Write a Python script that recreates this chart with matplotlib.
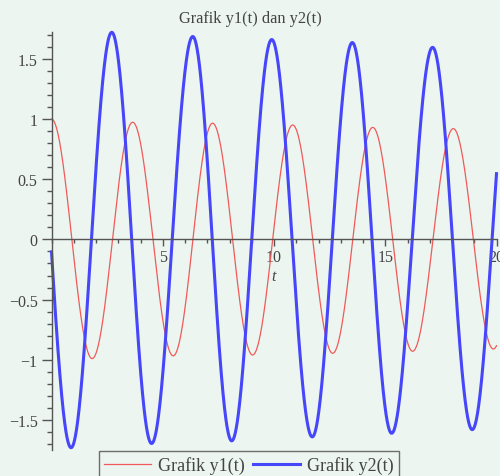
import numpy as np
import matplotlib.pyplot as plt
from matplotlib.ticker import MultipleLocator, FixedLocator

plt.rcParams['font.family'] = ['Liberation Serif', 'DejaVu Serif']

# Titik ekstrem (puncak dan lembah) dari kurva y1(t) dan y2(t)
t_ekstrem_y1 = [0.0, 1.83, 3.65, 5.47, 7.24, 9.04, 10.84, 12.64, 14.44, 16.23, 18.06, 19.86]
nilai_ekstrem_y1 = [1.0, -0.99, 0.973, -0.967, 0.965, -0.96, 0.95, -0.946, 0.93, -0.929, 0.92, -0.91]

t_ekstrem_y2 = [0.88, 2.71, 4.50, 6.35, 8.10, 9.90, 11.72, 13.52, 15.29, 17.13, 18.91]
nilai_ekstrem_y2 = [-1.73, 1.72, -1.695, 1.685, -1.673, 1.66, -1.64, 1.635, -1.61, 1.595, -1.58]

judul = "Grafik y1(t) dan y2(t)"
label_y1 = "Grafik y1(t)"
label_y2 = "Grafik y2(t)"
t_min, t_max = 0, 20


def kurva(t, te, ve):
    """Osilasi yang melewati titik-titik ekstrem: fasa naik pi per setengah periode."""
    te = np.asarray(te, dtype=float)
    ve = np.asarray(ve, dtype=float)
    k = np.arange(len(te)) * np.pi
    fasa = np.interp(t, te, k)
    kiri = t < te[0]
    fasa[kiri] = (t[kiri] - te[0]) / (te[1] - te[0]) * np.pi
    kanan = t > te[-1]
    fasa[kanan] = k[-1] + (t[kanan] - te[-1]) / (te[-1] - te[-2]) * np.pi
    amp = np.interp(t, te, np.abs(ve))
    return np.sign(ve[0]) * amp * np.cos(fasa)


t = np.linspace(t_min, t_max, 2000)
y1 = kurva(t, t_ekstrem_y1, nilai_ekstrem_y1)
y2 = kurva(t, t_ekstrem_y2, nilai_ekstrem_y2)

warna_latar = '#ecf5ef'
warna_sumbu = '#555555'

fig = plt.figure(figsize=(5.0, 4.77), dpi=100, facecolor=warna_latar)
ax = fig.add_axes([0.103, 0.0543, 0.89, 0.8771])
ax.set_facecolor('none')

ax.plot(t, y1, color='#f05a5a', lw=0.9, label=label_y1, clip_on=False)
ax.plot(t, y2, color='#4646fa', lw=2.2, label=label_y2, clip_on=False)

ax.set_xlim(t_min, t_max)
ax.set_ylim(-1.75, 1.725)

# sumbu melewati titik asal (gaya Maple)
for s in ['top', 'right']:
    ax.spines[s].set_visible(False)
ax.spines['left'].set_position(('data', 0))
ax.spines['bottom'].set_position(('data', 0))
for s in ['left', 'bottom']:
    ax.spines[s].set_color(warna_sumbu)
    ax.spines[s].set_linewidth(1.0)

ax.xaxis.set_major_locator(FixedLocator([5, 10, 15, 20]))
ax.xaxis.set_minor_locator(MultipleLocator(1))
ax.yaxis.set_major_locator(MultipleLocator(0.5))
ax.yaxis.set_minor_locator(MultipleLocator(0.1))
ax.yaxis.set_major_formatter(lambda v, pos: f'{v:g}'.replace('-', '\u2212'))

ax.tick_params(which='both', direction='out', color=warna_sumbu, width=1,
               labelsize=11.5, labelcolor='#444444')
ax.tick_params(axis='y', which='major', length=7, pad=3)
ax.tick_params(axis='y', which='minor', length=3.5)
ax.tick_params(axis='x', which='major', length=5, pad=2)
ax.tick_params(axis='x', which='minor', length=3)

ax.annotate('t', xy=(10, 0), xytext=(0, -26.5), textcoords='offset points',
            ha='center', va='center', style='italic', fontsize=11.5, color='#444444')

fig.text(0.5, 1 - 19 / 477, judul, ha='center', va='center',
         fontsize=11.8, color='#444444')

fig.legend(loc='upper center', bbox_to_anchor=(0.498, 1 - 452 / 477), ncol=2,
           fontsize=13, frameon=True, fancybox=False, edgecolor='#4d4d4d',
           facecolor='none', handlelength=2.6, handletextpad=0.4,
           columnspacing=0.45, borderpad=0.3, borderaxespad=0,
           labelcolor='#444444')
fig.legends[0].get_frame().set_linewidth(1.0)

fig.savefig('out.png', dpi=100, facecolor=fig.get_facecolor())
